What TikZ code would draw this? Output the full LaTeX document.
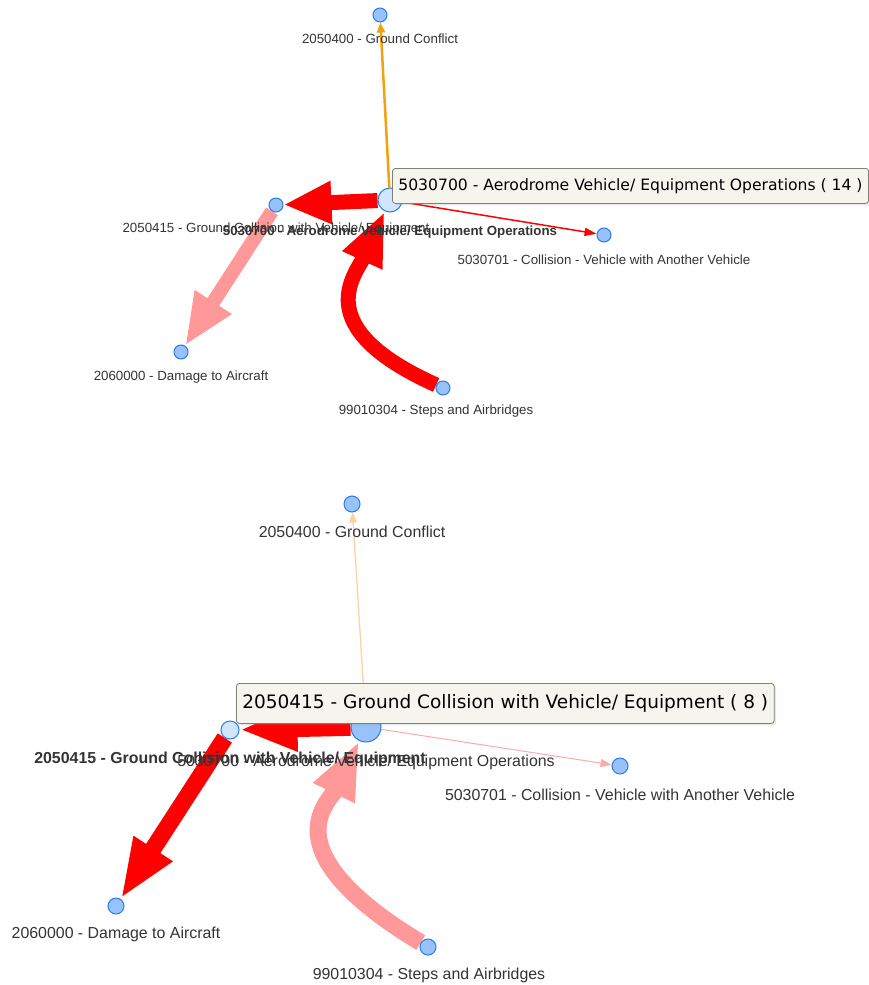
\documentclass[tikz,border=0pt]{standalone}
\usepackage{fontspec}
\setmainfont{Liberation Sans}
\newfontfamily\tipfont{DejaVu Sans}
\usetikzlibrary{arrows.meta,shadows,backgrounds}
\definecolor{nodefill}{HTML}{97C2FC}
\definecolor{nodeline}{HTML}{2B7CE9}
\definecolor{selfill}{HTML}{D2E5FF}
\definecolor{lbltext}{HTML}{343434}
\definecolor{tipbg}{HTML}{F5F4ED}
\definecolor{tipline}{HTML}{808074}
\definecolor{edgered}{HTML}{FF0000}
\definecolor{edgepink}{HTML}{FF9999}
\definecolor{edgeorange}{HTML}{F2A20F}
\definecolor{paleorange}{HTML}{FFCF9E}
\definecolor{palered}{HTML}{FFAAAA}
\tikzset{
  dot/.style={circle,draw=nodeline,fill=nodefill,line width=1pt,inner sep=0pt,minimum size=#1},
  seldot/.style={dot=#1,fill=selfill},
  lblsmall/.style={text=lbltext,inner sep=0pt,font=\fontsize{13.3}{15}\selectfont},
  lblbig/.style={text=lbltext,inner sep=0pt,font=\fontsize{15.9}{18}\selectfont},
  tipbox/.style={draw=tipline,fill=tipbg,rounded corners=3pt,line width=0.8pt,
    inner xsep=6pt,inner ysep=0pt,anchor=north west,text=black,
    drop shadow={opacity=0.18,shadow xshift=2pt,shadow yshift=-2pt}},
  heavy/.style={line width=#1},
}
\begin{document}
\begin{tikzpicture}[x=1pt,y=-1pt]
\useasboundingbox (0,0) rectangle (868,985);

% ---------- upper graph ----------
\node[dot=14pt] (gc1) at (380,15) {};
\node[seldot=24pt] (ce1) at (390,200) {};
\node[dot=14pt] (gw1) at (276,205) {};
\node[dot=14pt] (cv1) at (604,235) {};
\node[dot=14pt] (da1) at (181,352) {};
\node[dot=14pt] (sa1) at (443,388) {};

\begin{scope}[on background layer]
  \fill[white] (0,0) rectangle (868,985);
  \draw[edgeorange,heavy=2.5pt,-{Triangle[length=10pt,width=8pt]}] (ce1) -- (gc1);
  \draw[edgered,heavy=1.5pt,-{Triangle[length=12pt,width=8pt]}] (ce1) -- (cv1);
  \draw[edgered,heavy=15pt,-{Triangle[length=48pt,width=40pt]}] (ce1) -- (gw1);
  \draw[edgepink,heavy=14pt,-{Triangle[length=52pt,width=40pt]}] (gw1) -- (da1);
  \draw[edgered,heavy=15pt,-{Triangle[length=54pt,width=40pt]}]
    (sa1) .. controls (307,327) and (356,274) .. (ce1);
\end{scope}

\node[lblsmall] (gc1l) at (380,39) {2050400 - Ground Conflict};
\node[lblsmall] (gw1l) at (276,229) {2050415 - Ground Collision with Vehicle/ Equipment};
\node[lblsmall,font=\fontsize{13.3}{15}\selectfont\bfseries] (ce1l) at (390,232) {5030700 - Aerodrome Vehicle/ Equipment Operations};
\node[lblsmall] (cv1l) at (604,260) {5030701 - Collision - Vehicle with Another Vehicle};
\node[lblsmall] (da1l) at (181,377) {2060000 - Damage to Aircraft};
\node[lblsmall] (sa1l) at (436,411) {99010304 - Steps and Airbridges};

\node[tipbox,minimum height=35pt,font=\tipfont\fontsize{15.6}{18}\selectfont] (tt1) at (392,168)
  {5030700 - Aerodrome Vehicle/ Equipment Operations ( 14 )};

% ---------- lower graph ----------
\node[dot=16pt] (gc2) at (352,504) {};
\node[dot=30pt] (ce2) at (366,727) {};
\node[seldot=18pt] (gw2) at (230,730) {};
\node[dot=16pt] (cv2) at (620,766) {};
\node[dot=16pt] (da2) at (116,906) {};
\node[dot=16pt] (sa2) at (428,947) {};

\begin{scope}[on background layer]
  \draw[paleorange,heavy=1.2pt,-{Triangle[length=10pt,width=8pt]}] (ce2) -- (gc2);
  \draw[palered,heavy=1pt,-{Triangle[length=11pt,width=8pt]}] (ce2) -- (cv2);
  \draw[edgered,heavy=17pt,-{Triangle[length=58pt,width=42pt]}] (ce2) -- (gw2);
  \draw[edgered,heavy=17pt,-{Triangle[length=60pt,width=42pt]}] (gw2) -- (da2);
  \draw[edgepink,heavy=17pt,-{Triangle[length=58pt,width=42pt]}]
    (sa2) .. controls (267,850) and (330,801) .. (ce2);
\end{scope}

\node[lblbig] (gc2l) at (352,532) {2050400 - Ground Conflict};
\node[lblbig] (ce2l) at (366,762) {5030700 - Aerodrome Vehicle/ Equipment Operations};
\node[lblbig,font=\fontsize{15.9}{18}\selectfont\bfseries] (gw2l) at (230,759) {2050415 - Ground Collision with Vehicle/ Equipment};
\node[lblbig] (cv2l) at (620,795) {5030701 - Collision - Vehicle with Another Vehicle};
\node[lblbig] (da2l) at (116,934) {2060000 - Damage to Aircraft};
\node[lblbig] (sa2l) at (429,975) {99010304 - Steps and Airbridges};

\node[tipbox,minimum height=40pt,font=\tipfont\fontsize{18.5}{21}\selectfont] (tt2) at (236,683)
  {2050415 - Ground Collision with Vehicle/ Equipment ( 8 )};
\end{tikzpicture}
\end{document}
